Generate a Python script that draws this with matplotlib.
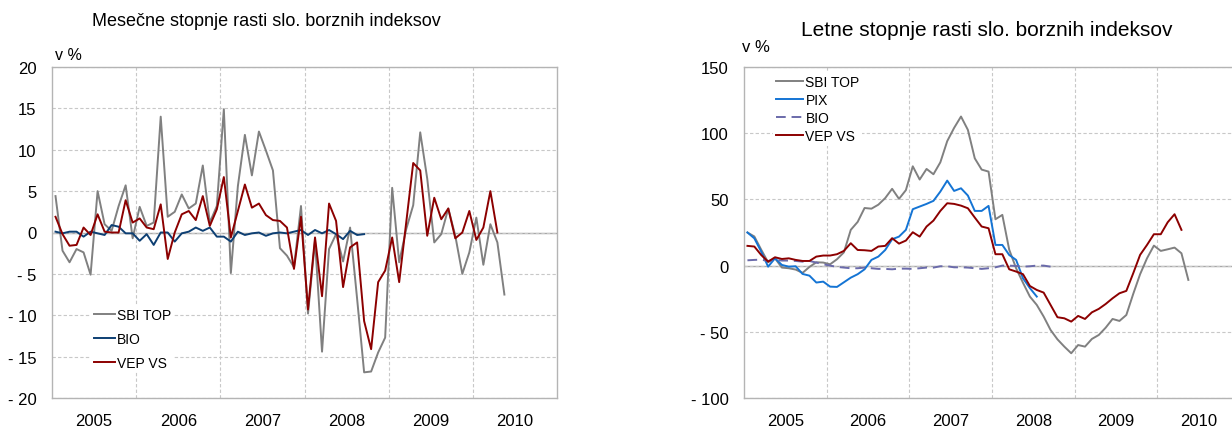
import matplotlib
matplotlib.use('Agg')
import matplotlib.pyplot as plt
import numpy as np

plt.rcParams['font.family'] = ['Liberation Sans', 'DejaVu Sans']

# monthly growth rates, Jan 2005 onwards (in %)
sbi_m = [4.4, -2.2, -3.6, -2.0, -2.4, -5.1, 5.0, 1.0, 0.2, 3.2, 5.7, -0.7,
         3.1, 0.8, 1.2, 14.0, 1.9, 2.5, 4.6, 2.9, 3.5, 8.1, 1.2, 3.2,
         14.9, -4.9, 5.6, 11.8, 6.9, 12.2, 9.9, 7.5, -1.9, -2.8, -4.2, 3.2,
         -9.8, -1.0, -14.4, -2.0, -0.2, -3.5, 0.6, -8.0, -16.9, -16.8, -14.5, -12.7,
         5.4, -3.6, 0.4, 3.3, 12.1, 6.5, -1.2, -0.2, 2.9, -0.4, -5.0, -2.4,
         1.8, -3.9, 1.0, -1.2, -7.5]
bio_m = [0.1, -0.1, 0.1, 0.1, -0.5, 0.1, -0.1, -0.3, 0.9, 0.7, -0.1, -0.1,
         -1.0, -0.2, -1.5, 0.0, 0.0, -1.1, -0.1, 0.1, 0.6, 0.2, 0.6, -0.5,
         -0.5, -1.1, 0.1, -0.3, -0.1, 0.0, -0.4, -0.1, 0.0, -0.1, 0.1, 0.3,
         -0.3, 0.3, -0.1, 0.3, -0.2, -0.8, 0.2, -0.3, -0.2]
vep_m = [1.9, -0.2, -1.6, -1.5, 0.6, -0.3, 2.2, 0.1, 0.0, 0.0, 3.9, 1.2,
         1.7, 0.6, 0.4, 3.4, -3.2, 0.0, 2.2, 2.6, 1.5, 4.4, 0.8, 2.8,
         6.7, -0.6, 2.6, 5.8, 3.0, 3.5, 2.1, 1.5, 1.4, 0.6, -4.4, 1.9,
         -9.3, -0.6, -7.7, 3.5, 1.4, -6.6, -1.8, -1.2, -10.7, -14.1, -6.0, -4.6,
         -0.6, -6.0, 1.2, 8.4, 7.5, -0.4, 4.2, 1.6, 2.9, -0.7, 0.0, 2.6,
         -0.9, 0.6, 5.0, 0.0]

# annual growth rates, Jan 2005 onwards (in %)
sbi_y = [25, 22, 12, 2.5, 5.5, -1.5, -2, -3, -5.5, -1, 2.5, 2.3,
         1, 4.8, 10, 27, 33, 43.5, 43, 46, 51, 58, 50.4, 57,
         75, 65, 73, 69, 78, 94, 104, 112.6, 102.5, 81, 72.5, 71,
         35, 38.3, 12, -2, -13, -23.4, -29.7, -38.5, -48.6, -55.7, -61.2, -66.2,
         -60, -61.2, -55.4, -52.4, -46.9, -40.3, -41.8, -37.3, -21.4, -6.5, 5.5, 15.1,
         11.1, 12.3, 13.6, 9.3, -10.8]
pix_y = [25, 20.6, 10.6, -0.8, 5.5, 0.5, -0.8, -0.5, -6.3, -7.6, -12.8, -12.1,
         -15.9, -16.1, -12.6, -9.1, -6.5, -2.8, 4.3, 6.8, 11.8, 19.9, 21.9, 27,
         42.6, 44.6, 46.6, 48.9, 55.9, 64.2, 56.4, 58.4, 52.9, 41.3, 41.3, 45.1,
         15.6, 15.6, 8, 4.3, -9.6, -17, -23.4]
bio_y = [4, 4.3, 4.5, 3.5, 4.3, 3.8, 3.8, 3.5, 3, 3.5, 2.3, 1,
         0, -1, -1.5, -2, -2, -1.5, -2, -2.5, -2.5, -2.8, -2.3, -2.3,
         -2.5, -2, -1.5, -1.5, -0.5, -0.5, -1.3, -1.3, -1.5, -2, -2.5, -2,
         -1.3, 0, 0, -0.3, -0.8, -0.5, 0, 0, -0.8]
vep_y = [14.9, 14.4, 8, 3, 6.3, 5, 5.5, 4.3, 3.5, 3.5, 6.8, 7.6,
         7.6, 8.6, 11.1, 16.9, 11.8, 11.6, 11.1, 14.4, 14.9, 20.7, 16.6, 18.9,
         25.2, 21.9, 29.5, 34, 41.3, 47.1, 46.6, 45.3, 43.3, 36.3, 29.5, 28.2,
         8.6, 8.6, -2.8, -4.5, -6.5, -15.4, -18.4, -20.4, -29.7, -39, -39.8, -42.3,
         -38, -40.3, -35.3, -32.7, -29, -24.7, -20.9, -19.1, -5.8, 8.1, 15.6, 23.7,
         23.7, 32.7, 38.8, 27]

years = ['2005', '2006', '2007', '2008', '2009', '2010']

GRAY = '#808080'
DARKBLUE = '#0d3f73'
RED = '#8c0000'
BLUE = '#1474d4'
LAVENDER = '#6a6aaa'
GRID = '#c8c8c8'


def minus_fmt(v, pos=None):
    v = int(round(v))
    return f'- {abs(v)}' if v < 0 else f'{v}'


def style_axes(ax, ymin, ymax, ystep):
    n = len(years) * 12
    ax.set_xlim(-0.5, n - 0.5)
    ax.set_ylim(ymin, ymax)
    ax.set_yticks(np.arange(ymin, ymax + ystep, ystep))
    ax.yaxis.set_major_formatter(plt.FuncFormatter(minus_fmt))
    ax.set_xticks(np.arange(11.5, n - 1, 12))
    ax.set_xticklabels([])
    ax.set_xticks(np.arange(5.5, n, 12), minor=True)
    ax.set_xticklabels(years, minor=True)
    ax.tick_params(which='both', length=0, labelsize=12, pad=11)
    ax.grid(True, which='major', color=GRID, linestyle=(0, (3, 2)), linewidth=0.8)
    ax.axhline(0, color='#a8a8a8', linewidth=1.0, zorder=1)
    for s in ax.spines.values():
        s.set_color('#b4b4b4')
        s.set_linewidth(1.0)


fig = plt.figure(figsize=(12.32, 4.31), dpi=100)

# left: monthly
ax1 = fig.add_axes([52 / 1232, 32 / 431, 505 / 1232, 331 / 431])
style_axes(ax1, -20, 20, 5)
ax1.plot(np.arange(len(sbi_m)), sbi_m, color=GRAY, lw=1.4, label='SBI TOP', zorder=3)
ax1.plot(np.arange(len(bio_m)), bio_m, color=DARKBLUE, lw=1.4, label='BIO', zorder=4)
ax1.plot(np.arange(len(vep_m)), vep_m, color=RED, lw=1.4, label='VEP VS', zorder=5)
ax1.legend(loc='upper left', bbox_to_anchor=(0.078, 0.28), fontsize=10,
           frameon=True, fancybox=False, edgecolor='none', facecolor='white',
           framealpha=1, handlelength=1.5, handletextpad=0.15,
           labelspacing=0.7, borderpad=0.2, borderaxespad=0)
fig.text(266 / 1232, 1 - 21 / 431, 'Mesečne stopnje rasti slo. borznih indeksov',
         ha='center', va='center', fontsize=13)
fig.text(55 / 1232, 1 - 56 / 431, 'v %', ha='left', va='center', fontsize=11.5)

# right: annual
ax2 = fig.add_axes([744 / 1232, 32 / 431, 496 / 1232, 331 / 431])
style_axes(ax2, -100, 150, 50)
ax2.plot(np.arange(len(sbi_y)), sbi_y, color=GRAY, lw=1.4, label='SBI TOP', zorder=3)
ax2.plot(np.arange(len(pix_y)), pix_y, color=BLUE, lw=1.4, label='PIX', zorder=4)
ax2.plot(np.arange(len(bio_y)), bio_y, color=LAVENDER, lw=1.4, ls=(0, (5, 3)),
         label='BIO', zorder=4)
ax2.plot(np.arange(len(vep_y)), vep_y, color=RED, lw=1.4, label='VEP VS', zorder=5)
ax2.legend(loc='upper left', bbox_to_anchor=(0.058, 0.985), fontsize=10,
           frameon=True, fancybox=False, edgecolor='none', facecolor='white',
           framealpha=1, handlelength=2.0, handletextpad=0.15,
           labelspacing=0.3, borderpad=0.2, borderaxespad=0)
fig.text(987 / 1232, 1 - 30 / 431, 'Letne stopnje rasti slo. borznih indeksov',
         ha='center', va='center', fontsize=15)
fig.text(742 / 1232, 1 - 48 / 431, 'v %', ha='left', va='center', fontsize=12)

fig.savefig('out.png', dpi=100)
